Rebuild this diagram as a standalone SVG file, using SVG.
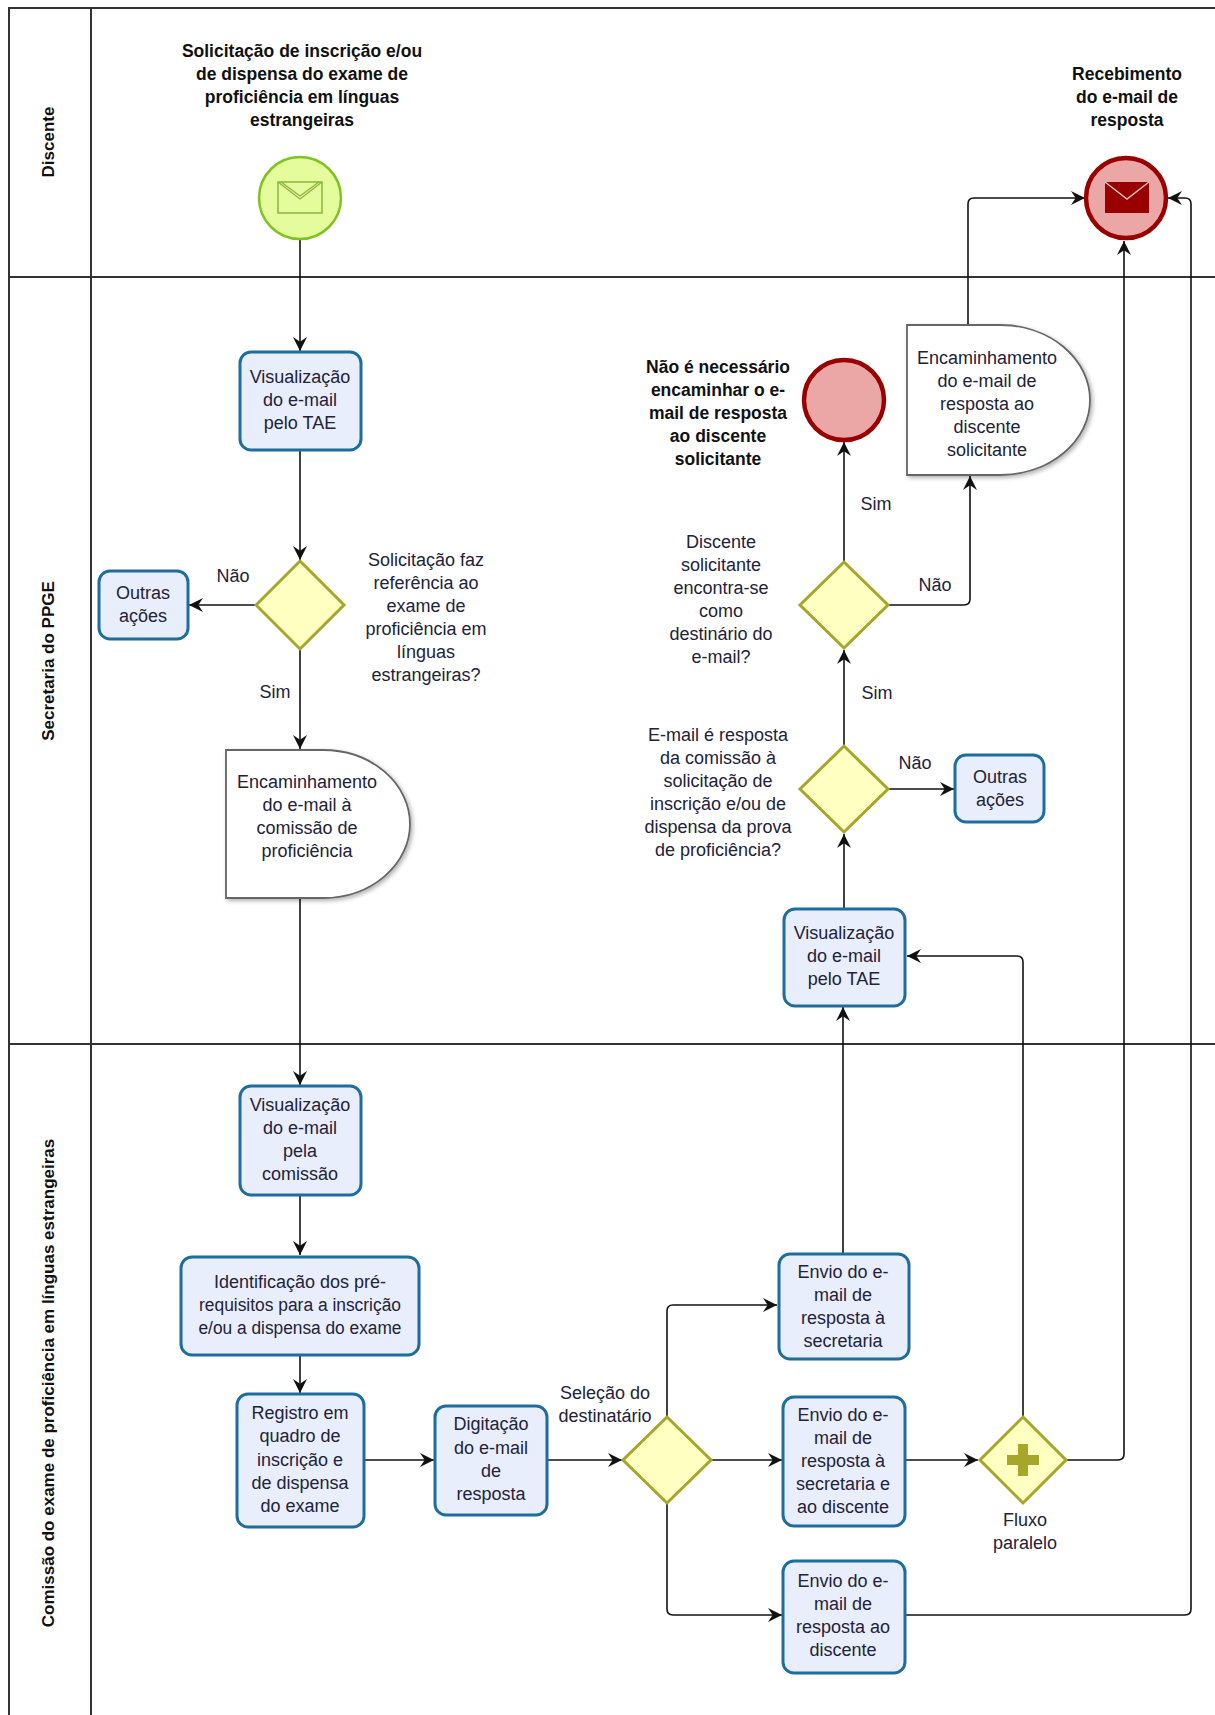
<svg xmlns="http://www.w3.org/2000/svg" width="1215" height="1715" viewBox="0 0 1215 1715">
<style>
.lane{fill:none;stroke:#333;stroke-width:2}
.lt{font-family:"Liberation Sans",Arial,sans-serif;font-weight:bold;font-size:17px;fill:#111;text-anchor:middle;dominant-baseline:central}
.task{fill:#e9eefc;stroke:#1d6d9e;stroke-width:3}
.gw{fill:#ffffc2;stroke:#a6a62a;stroke-width:3}
.t{font-family:"Liberation Sans",Arial,sans-serif;font-size:18px;fill:#22223a;text-anchor:middle;dominant-baseline:central}
.b{font-family:"Liberation Sans",Arial,sans-serif;font-weight:bold;font-size:17.5px;fill:#111;text-anchor:middle;dominant-baseline:central}
.c{fill:none;stroke:#111;stroke-width:1.6;marker-end:url(#arr)}
.delay{fill:#fff;stroke:#666;stroke-width:1.8;filter:url(#sh)}
</style>
<defs>
<marker id="arr" markerUnits="userSpaceOnUse" viewBox="0 0 12 12" markerWidth="14" markerHeight="14" refX="12" refY="6" orient="auto">
<path d="M0,0 L12,6 L0,12 L4,6 Z" fill="#111"/>
</marker>
<filter id="sh" x="-10%" y="-10%" width="130%" height="130%">
<feDropShadow dx="2" dy="2" stdDeviation="2" flood-color="#000" flood-opacity="0.3"/>
</filter>
</defs>
<rect width="1215" height="1715" fill="#fff"/>
<g id="pool">
<rect class="lane" x="9" y="8" width="1230" height="1730"/>
<line class="lane" x1="91" y1="8" x2="91" y2="1715"/>
<line class="lane" x1="9" y1="277" x2="1215" y2="277"/>
<line class="lane" x1="9" y1="1044" x2="1215" y2="1044"/>
<text class="lt" transform="translate(48,142) rotate(-90)">Discente</text>
<text class="lt" transform="translate(48,661) rotate(-90)">Secretaria do PPGE</text>
<text class="lt" transform="translate(48,1383) rotate(-90)">Comissão do exame de proficiência em línguas estrangeiras</text>
</g>
<g id="connectors">
<path class="c" d="M300,240 V351"/>
<path class="c" d="M300,450 V560"/>
<path class="c" d="M256,605 H189"/>
<path class="c" d="M300,649 V749"/>
<path class="c" d="M300,898 V1085"/>
<path class="c" d="M300,1195 V1255"/>
<path class="c" d="M300,1355 V1393"/>
<path class="c" d="M364,1460 H434"/>
<path class="c" d="M547,1460 H622"/>
<path class="c" d="M667,1416 V1311 Q667,1305 673,1305 H777"/>
<path class="c" d="M711,1460 H782"/>
<path class="c" d="M667,1504 V1609 Q667,1615 673,1615 H782"/>
<path class="c" d="M905,1460 H978"/>
<path class="c" d="M1023,1416 V962 Q1023,956 1017,956 H907"/>
<path class="c" d="M1067,1460 H1118 Q1124,1460 1124,1454 V241"/>
<path class="c" d="M905,1615 H1185 Q1191,1615 1191,1609 V204 Q1191,198 1185,198 H1168"/>
<path class="c" d="M843,1253 V1007"/>
<path class="c" d="M844,909 V834"/>
<path class="c" d="M888,789 H954"/>
<path class="c" d="M844,745 V650"/>
<path class="c" d="M844,561 V442"/>
<path class="c" d="M888,605 H964 Q970,605 970,599 V476"/>
<path class="c" d="M968,325 V204 Q968,198 974,198 H1085"/>
</g>
<g id="start">
<circle cx="300" cy="198" r="41" fill="#e5fc9c" stroke="#7ec320" stroke-width="2.5"/>
<rect x="278" y="182" width="44" height="31" fill="none" stroke="#8bb53c" stroke-width="1.5"/>
<path d="M278,182 L300,199 L322,182 M281,182 L300,196 L319,182" fill="none" stroke="#8bb53c" stroke-width="1.3"/>
<text class="b" x="302" y="51">Solicitação de inscrição e/ou</text>
<text class="b" x="302" y="74">de dispensa do exame de</text>
<text class="b" x="302" y="97">proficiência em línguas</text>
<text class="b" x="302" y="120">estrangeiras</text>
</g>
<g id="end-msg">
<circle cx="1126" cy="198" r="40" fill="#eba6a6" stroke="#990000" stroke-width="4.5"/>
<rect x="1105" y="182" width="44" height="31" fill="#990000"/>
<path d="M1105,182 L1127,199 L1149,182" fill="none" stroke="#f2c0c0" stroke-width="1.5"/>
<text class="b" x="1127" y="74">Recebimento</text>
<text class="b" x="1127" y="97">do e-mail de</text>
<text class="b" x="1127" y="120">resposta</text>
</g>
<g id="task-tae1">
<rect class="task" x="240" y="352" width="121" height="98" rx="11"/>
<text class="t" x="300" y="377">Visualização</text>
<text class="t" x="300" y="400">do e-mail</text>
<text class="t" x="300" y="423">pelo TAE</text>
</g>
<g id="gw1">
<path class="gw" d="M300,561 L344,605 L300,649 L256,605 Z"/>
<text class="t" x="233" y="576">Não</text>
<text class="t" x="275" y="692">Sim</text>
<text class="t" x="426" y="560">Solicitação faz</text>
<text class="t" x="426" y="583">referência ao</text>
<text class="t" x="426" y="606">exame de</text>
<text class="t" x="426" y="629">proficiência em</text>
<text class="t" x="426" y="652">línguas</text>
<text class="t" x="426" y="675">estrangeiras?</text>
</g>
<g id="outras1">
<rect class="task" x="99" y="571" width="89" height="68" rx="11"/>
<text class="t" x="143" y="593">Outras</text>
<text class="t" x="143" y="616">ações</text>
</g>
<g id="enc1">
<path class="delay" d="M226,750 H323 A87,74 0 0 1 323,898 H226 Z"/>
<text class="t" x="307" y="782">Encaminhamento</text>
<text class="t" x="307" y="805">do e-mail à</text>
<text class="t" x="307" y="828">comissão de</text>
<text class="t" x="307" y="851">proficiência</text>
</g>
<g id="task-viscom">
<rect class="task" x="240" y="1086" width="121" height="109" rx="11"/>
<text class="t" x="300" y="1105">Visualização</text>
<text class="t" x="300" y="1128">do e-mail</text>
<text class="t" x="300" y="1151">pela</text>
<text class="t" x="300" y="1174">comissão</text>
</g>
<g id="task-ident">
<rect class="task" x="181" y="1257" width="238" height="98" rx="11"/>
<text class="t" x="300" y="1282">Identificação dos pré-</text>
<text class="t" x="300" y="1305" textLength="202" lengthAdjust="spacingAndGlyphs">requisitos para a inscrição</text>
<text class="t" x="300" y="1328" textLength="203" lengthAdjust="spacingAndGlyphs">e/ou a dispensa do exame</text>
</g>
<g id="task-registro">
<rect class="task" x="237" y="1394" width="127" height="133" rx="11"/>
<text class="t" x="300" y="1413">Registro em</text>
<text class="t" x="300" y="1436">quadro de</text>
<text class="t" x="300" y="1460">inscrição e</text>
<text class="t" x="300" y="1483">de dispensa</text>
<text class="t" x="300" y="1506">do exame</text>
</g>
<g id="task-digit">
<rect class="task" x="435" y="1406" width="112" height="109" rx="11"/>
<text class="t" x="491" y="1424">Digitação</text>
<text class="t" x="491" y="1448">do e-mail</text>
<text class="t" x="491" y="1471">de</text>
<text class="t" x="491" y="1494">resposta</text>
</g>
<g id="gw-selecao">
<path class="gw" d="M667,1417 L711,1460 L667,1503 L623,1460 Z"/>
<text class="t" x="605" y="1393">Seleção do</text>
<text class="t" x="605" y="1416">destinatário</text>
</g>
<g id="task-envio1">
<rect class="task" x="779" y="1254" width="130" height="105" rx="11"/>
<text class="t" x="843" y="1272">Envio do e-</text>
<text class="t" x="843" y="1295">mail de</text>
<text class="t" x="843" y="1318">resposta à</text>
<text class="t" x="843" y="1341">secretaria</text>
</g>
<g id="task-envio2">
<rect class="task" x="783" y="1397" width="122" height="129" rx="11"/>
<text class="t" x="843" y="1415">Envio do e-</text>
<text class="t" x="843" y="1438">mail de</text>
<text class="t" x="843" y="1461">resposta à</text>
<text class="t" x="843" y="1484">secretaria e</text>
<text class="t" x="843" y="1507">ao discente</text>
</g>
<g id="task-envio3">
<rect class="task" x="783" y="1561" width="122" height="112" rx="11"/>
<text class="t" x="843" y="1581">Envio do e-</text>
<text class="t" x="843" y="1604">mail de</text>
<text class="t" x="843" y="1627">resposta ao</text>
<text class="t" x="843" y="1650">discente</text>
</g>
<g id="gw-paralelo">
<path class="gw" d="M1023,1417 L1066,1460 L1023,1503 L980,1460 Z"/>
<path d="M1018,1444 H1028 V1455 H1039 V1465 H1028 V1476 H1018 V1465 H1007 V1455 H1018 Z" fill="#a6a62a"/>
<text class="t" x="1025" y="1520">Fluxo</text>
<text class="t" x="1025" y="1543">paralelo</text>
</g>
<g id="task-tae2">
<rect class="task" x="784" y="909" width="121" height="97" rx="11"/>
<text class="t" x="844" y="933">Visualização</text>
<text class="t" x="844" y="956">do e-mail</text>
<text class="t" x="844" y="979">pelo TAE</text>
</g>
<g id="gw2">
<path class="gw" d="M844,746 L888,789 L844,832 L800,789 Z"/>
<text class="t" x="718" y="735">E-mail é resposta</text>
<text class="t" x="718" y="758">da comissão à</text>
<text class="t" x="718" y="781">solicitação de</text>
<text class="t" x="718" y="804">inscrição e/ou de</text>
<text class="t" x="718" y="827">dispensa da prova</text>
<text class="t" x="718" y="850">de proficiência?</text>
<text class="t" x="915" y="763">Não</text>
<text class="t" x="877" y="693">Sim</text>
</g>
<g id="outras2">
<rect class="task" x="955" y="755" width="89" height="67" rx="11"/>
<text class="t" x="1000" y="777">Outras</text>
<text class="t" x="1000" y="800">ações</text>
</g>
<g id="gw3">
<path class="gw" d="M844,562 L888,605 L844,648 L800,605 Z"/>
<text class="t" x="721" y="542">Discente</text>
<text class="t" x="721" y="565">solicitante</text>
<text class="t" x="721" y="588">encontra-se</text>
<text class="t" x="721" y="611">como</text>
<text class="t" x="721" y="634">destinário do</text>
<text class="t" x="721" y="657">e-mail?</text>
<text class="t" x="876" y="504">Sim</text>
<text class="t" x="935" y="585">Não</text>
</g>
<g id="end-none">
<circle cx="844" cy="400" r="40" fill="#eba6a6" stroke="#990000" stroke-width="4.5"/>
<text class="b" x="718" y="367">Não é necessário</text>
<text class="b" x="718" y="390">encaminhar o e-</text>
<text class="b" x="718" y="413">mail de resposta</text>
<text class="b" x="718" y="436">ao discente</text>
<text class="b" x="718" y="459">solicitante</text>
</g>
<g id="enc2">
<path class="delay" d="M907,325 H1000 A90,75 0 0 1 1000,475 H907 Z"/>
<text class="t" x="987" y="358">Encaminhamento</text>
<text class="t" x="987" y="381">do e-mail de</text>
<text class="t" x="987" y="404">resposta ao</text>
<text class="t" x="987" y="427">discente</text>
<text class="t" x="987" y="450">solicitante</text>
</g>
</svg>
